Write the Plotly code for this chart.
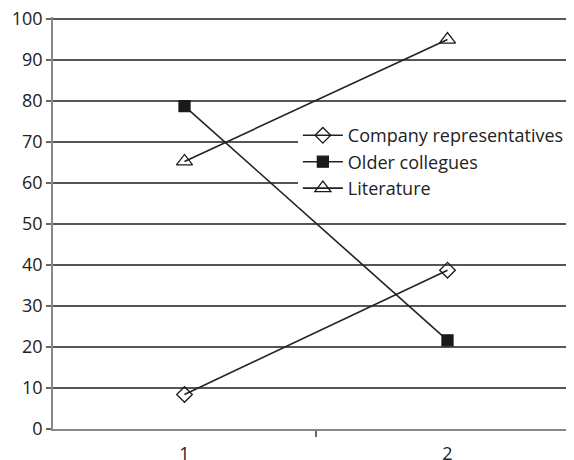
import plotly.graph_objects as go

categories = [1, 2]
company = [8.4, 38.7]
older = [78.7, 21.6]
literature = [65.2, 94.9]
series_names = ["Company representatives", "Older collegues", "Literature"]
y_ticks = [0, 10, 20, 30, 40, 50, 60, 70, 80, 90, 100]

fig = go.Figure()
styles = [
    dict(symbol="diamond-open", size=12),
    dict(symbol="square", size=11),
    dict(symbol="triangle-up-open", size=14),
]
for name, vals, st in zip(series_names, [company, older, literature], styles):
    fig.add_trace(go.Scatter(
        x=categories, y=vals, name=name, mode="lines+markers",
        line=dict(color="#222222", width=1.6),
        marker=dict(symbol=st["symbol"], size=st["size"], color="#1a1a1a",
                    line=dict(color="#1a1a1a", width=1.3)),
    ))

# page body has an 8px margin, so the figure is offset by 8px
fig.update_layout(
    width=566, height=452,
    margin=dict(l=45, r=0, t=9, b=31),
    paper_bgcolor="white", plot_bgcolor="white",
    font=dict(family="Open Sans", size=18, color="#222222"),
    showlegend=True,
    legend=dict(x=0.47, y=0.757, xanchor="left", yanchor="top",
                bgcolor="white", font=dict(size=18, color="#222222"),
                tracegroupgap=0, itemwidth=40),
)
fig.update_xaxes(
    range=[0.5, 2.481], tickvals=categories, ticktext=[str(c) for c in categories],
    showgrid=False, zeroline=False, showline=True, linecolor="#888888", linewidth=1.5,
    ticks="", automargin=False, ticklabelstandoff=8, ticklabeloverflow="allow",
    minor=dict(tickvals=[1.5], ticks="outside", ticklen=6, tickcolor="#666666", tickwidth=1.5),
)
fig.update_yaxes(
    range=[0, 100.4], tickvals=y_ticks, showgrid=True, gridcolor="#555555", gridwidth=1.5,
    zeroline=False, showline=True, linecolor="#888888", linewidth=1.5, automargin=False,
    ticks="outside", ticklen=5, tickcolor="#666666", tickwidth=1.5, ticklabeloverflow="allow",
)

fig.write_html("out.html")
